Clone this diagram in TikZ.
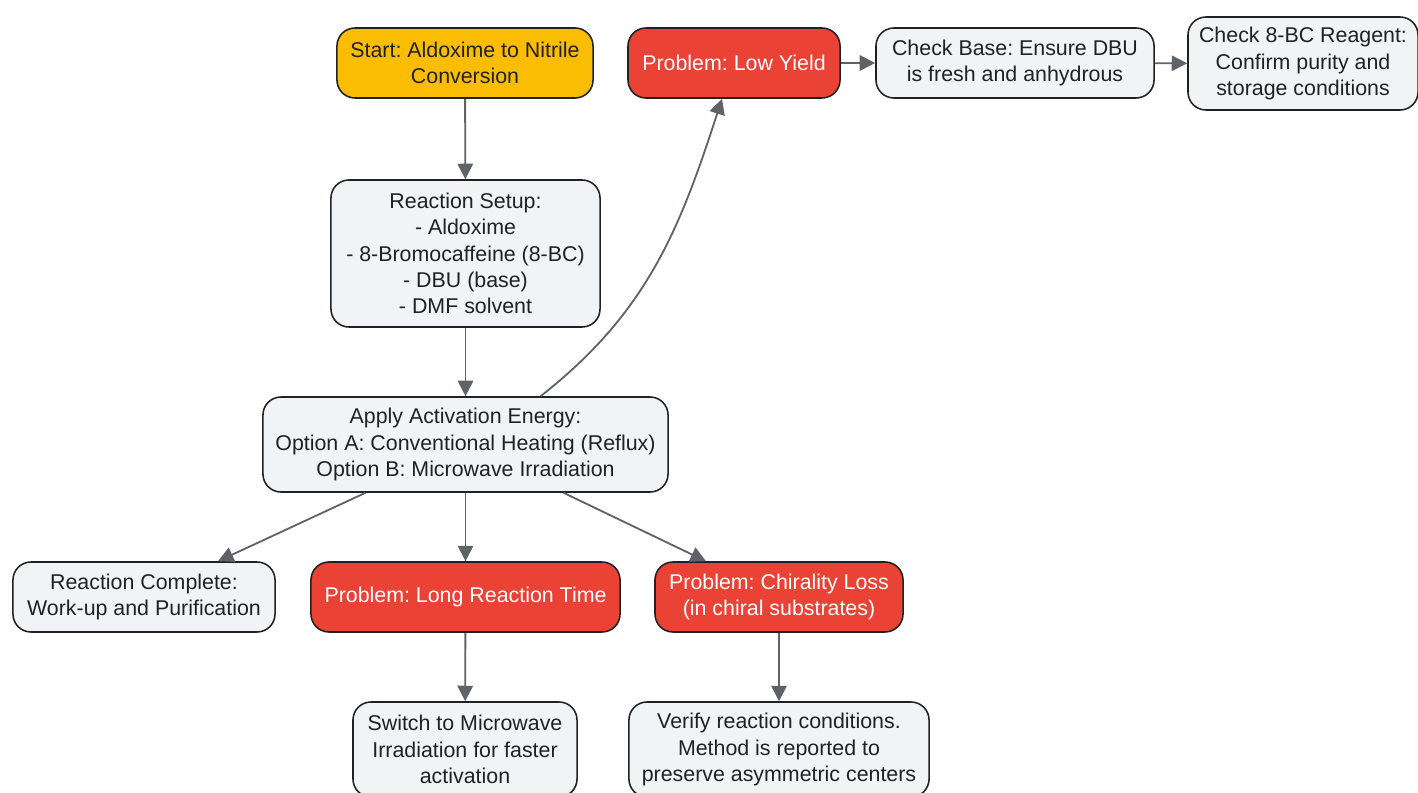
\documentclass[tikz,border=0pt]{standalone}
\usepackage{fontspec}
\setmainfont{Liberation Sans}
\usetikzlibrary{arrows.meta}
\frenchspacing
\definecolor{startyellow}{HTML}{FBBC04}
\definecolor{probred}{HTML}{EA4335}
\definecolor{boxgray}{HTML}{F1F3F4}
\definecolor{boxline}{HTML}{202124}
\definecolor{linkgray}{HTML}{5F6368}
\tikzstyle{box} = [draw=boxline, line width=1.1pt, rounded corners=0.45cm, fill=boxgray, text=boxline, align=center, inner sep=0pt, font={\fontsize{15.2}{18.6}\selectfont}]
\tikzstyle{startbox} = [box, fill=startyellow]
\tikzstyle{probbox} = [box, fill=probred, text=white]
\tikzstyle{link} = [draw=linkgray, line width=1.3pt, -{Triangle[length=11pt,width=11pt]}]

\begin{document}
\begin{tikzpicture}[x=0.025cm, y=-0.025cm]
  \useasboundingbox (0,0) rectangle (1418,793);
  \clip (0,0) rectangle (1418,793);

  % top row
  \node[at={(465,63)}, startbox, minimum width=6.4cm, minimum height=1.75cm] (start) {Start: Aldoxime to Nitrile\\Conversion};
  \node[at={(734,63)}, probbox, minimum width=5.3cm, minimum height=1.75cm] (lowyield) {Problem: Low Yield};
  \node[at={(1015,63)}, box, minimum width=6.95cm, minimum height=1.75cm] (checkbase) {Check Base: Ensure DBU\\is fresh and anhydrous};
  \node[at={(1303,63.5)}, box, minimum width=5.75cm, minimum height=2.325cm] (checkbc) {Check 8-BC Reagent:\\Confirm purity and\\storage conditions};

  % main column
  \node[at={(465.5,253.5)}, box, minimum width=6.725cm, minimum height=3.675cm] (setup) {Reaction Setup:\\- Aldoxime\\- 8-Bromocaffeine (8-BC)\\- DBU (base)\\- DMF solvent};
  \node[at={(465.5,444.5)}, box, minimum width=10.125cm, minimum height=2.375cm] (apply) {Apply Activation Energy:\\Option A: Conventional Heating (Reflux)\\Option B: Microwave Irradiation};

  % outcomes
  \node[at={(144,597)}, box, minimum width=6.55cm, minimum height=1.75cm] (complete) {Reaction Complete:\\Work-up and Purification};
  \node[at={(465.5,597)}, probbox, minimum width=7.725cm, minimum height=1.75cm] (longtime) {Problem: Long Reaction Time};
  \node[at={(779,597)}, probbox, minimum width=6.2cm, minimum height=1.75cm] (chiral) {Problem: Chirality Loss\\(in chiral substrates)};

  % fixes
  \node[at={(465,749.5)}, box, minimum width=5.6cm, minimum height=2.375cm] (switch) {Switch to Microwave\\Irradiation for faster\\activation};
  \node[at={(779,749.5)}, box, minimum width=7.5cm, minimum height=2.375cm] (verify) {Verify reaction conditions.\\Method is reported to\\preserve asymmetric centers};

  % connectors
  \draw[link] (start) -- (setup);
  \draw[link] (setup) -- (apply);
  \draw[link] ([xshift=1.875cm]apply.north) to[out=38, in=-108] ([xshift=-0.3cm]lowyield.south);
  \draw[link] (lowyield) -- (checkbase);
  \draw[link] (checkbase) -- (checkbc);
  \draw[link] ([xshift=-2.5cm]apply.south) -- ([xshift=1.85cm]complete.north);
  \draw[link] (apply) -- (longtime);
  \draw[link] ([xshift=2.45cm]apply.south) -- ([xshift=-1.825cm]chiral.north);
  \draw[link] (longtime) -- (switch);
  \draw[link] (chiral) -- (verify);
\end{tikzpicture}
\end{document}
